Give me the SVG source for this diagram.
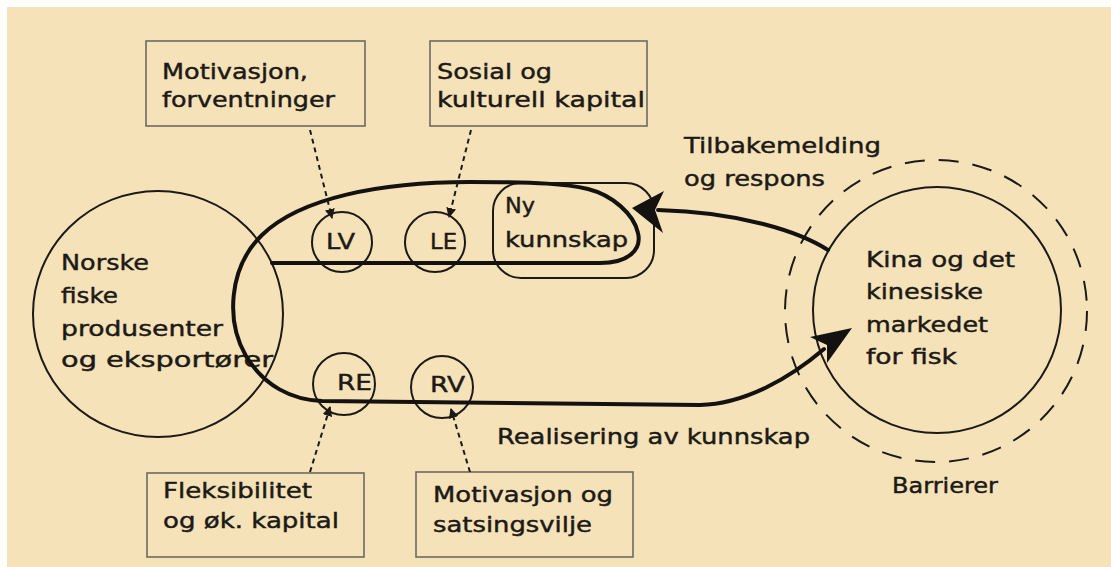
<svg xmlns="http://www.w3.org/2000/svg" width="1111" height="567" viewBox="0 0 1111 567">
<style>
text{font-family:"DejaVu Sans","Liberation Sans",sans-serif;font-size:22px;fill:#1c1a17;stroke:#1c1a17;stroke-width:0.45}
.box{fill:none;stroke:#6e6a62;stroke-width:1.6}
.thin{fill:none;stroke:#1c1a17;stroke-width:2}
.thick{fill:none;stroke:#141210;stroke-width:4;stroke-linecap:round;stroke-linejoin:round}
.dash{fill:none;stroke:#1c1a17;stroke-width:2;stroke-dasharray:5 4}
.head{fill:#141210;stroke:none}
</style>
<defs>
<marker id="tri" viewBox="0 0 10 10" refX="9" refY="5" markerWidth="5" markerHeight="5" orient="auto" markerUnits="strokeWidth">
<path d="M0,0 L10,5 L0,10 z" fill="#1c1a17"/>
</marker>
</defs>
<rect x="0" y="0" width="1111" height="567" fill="#ffffff"/>
<rect x="7" y="7" width="1104" height="560" fill="#f6e2b8"/>

<g id="norske">
<ellipse class="thin" cx="158" cy="314" rx="125" ry="123"/>
<text x="61" y="270" textLength="88" lengthAdjust="spacingAndGlyphs">Norske</text>
<text x="61" y="303" textLength="57" lengthAdjust="spacingAndGlyphs">fiske</text>
<text x="61" y="336" textLength="162" lengthAdjust="spacingAndGlyphs">produsenter</text>
<text x="61" y="367" textLength="212" lengthAdjust="spacingAndGlyphs">og eksportører</text>
</g>

<g id="kina">
<ellipse class="thin" cx="937" cy="310" rx="124" ry="123"/>
<circle cx="936" cy="311" r="151" fill="none" stroke="#1c1a17" stroke-width="2" stroke-dasharray="20 14"/>
<text x="866" y="267" textLength="149" lengthAdjust="spacingAndGlyphs">Kina og det</text>
<text x="866" y="299" textLength="117" lengthAdjust="spacingAndGlyphs">kinesiske</text>
<text x="866" y="332" textLength="122" lengthAdjust="spacingAndGlyphs">markedet</text>
<text x="866" y="364" textLength="91" lengthAdjust="spacingAndGlyphs">for fisk</text>
</g>

<g id="barrierer">
<text x="892" y="493" textLength="106" lengthAdjust="spacingAndGlyphs">Barrierer</text>
</g>

<g id="box-motivasjon">
<rect class="box" x="146" y="41" width="219" height="85"/>
<text x="162" y="79" textLength="146" lengthAdjust="spacingAndGlyphs">Motivasjon,</text>
<text x="162" y="107" textLength="173" lengthAdjust="spacingAndGlyphs">forventninger</text>
</g>

<g id="box-sosial">
<rect class="box" x="430" y="41" width="217" height="85"/>
<text x="437" y="79" textLength="115" lengthAdjust="spacingAndGlyphs">Sosial og</text>
<text x="437" y="107" textLength="208" lengthAdjust="spacingAndGlyphs">kulturell kapital</text>
</g>

<g id="box-fleksibilitet">
<rect class="box" x="147" y="473" width="217" height="84"/>
<text x="163" y="498" textLength="149" lengthAdjust="spacingAndGlyphs">Fleksibilitet</text>
<text x="163" y="528" textLength="176" lengthAdjust="spacingAndGlyphs">og øk. kapital</text>
</g>

<g id="box-satsing">
<rect class="box" x="416" y="472" width="217" height="85"/>
<text x="433" y="502" textLength="180" lengthAdjust="spacingAndGlyphs">Motivasjon og</text>
<text x="433" y="532" textLength="159" lengthAdjust="spacingAndGlyphs">satsingsvilje</text>
</g>

<g id="nykunnskap">
<rect class="thin" x="493" y="183" width="161" height="95" rx="28" ry="28"/>
<text x="505" y="213" textLength="30" lengthAdjust="spacingAndGlyphs">Ny</text>
<text x="505" y="247" textLength="123" lengthAdjust="spacingAndGlyphs">kunnskap</text>
</g>

<g id="lv">
<circle class="thin" cx="342" cy="242" r="30"/>
<text x="326" y="249" textLength="29" lengthAdjust="spacingAndGlyphs">LV</text>
</g>
<g id="le">
<circle class="thin" cx="435" cy="242" r="30"/>
<text x="430" y="249" textLength="27" lengthAdjust="spacingAndGlyphs">LE</text>
</g>
<g id="re">
<circle class="thin" cx="344" cy="384" r="31"/>
<text x="337" y="390" textLength="35" lengthAdjust="spacingAndGlyphs">RE</text>
</g>
<g id="rv">
<circle class="thin" cx="442" cy="387" r="31"/>
<text x="430" y="392" textLength="35" lengthAdjust="spacingAndGlyphs">RV</text>
</g>

<g id="labels">
<text x="684" y="153" textLength="197" lengthAdjust="spacingAndGlyphs">Tilbakemelding</text>
<text x="684" y="186" textLength="141" lengthAdjust="spacingAndGlyphs">og respons</text>
<text x="497" y="444" textLength="313" lengthAdjust="spacingAndGlyphs">Realisering av kunnskap</text>
</g>

<g id="connectors">
<path class="thick" d="M272,263 L600,263 C628,263 642,250 638,233 C634,214 612,195 588,189 C566,184 540,182 470,182 C380,182 300,198 262,235 C228,268 226,322 246,356 C264,386 292,400 322,401 L700,405 C745,404 790,378 824,349"/>
<polygon class="head" points="852,328 827,363 827,345 810,337"/>
<path class="thick" d="M828,250 C800,232 740,212 658,210"/>
<polygon class="head" points="632,208 664,191 655,210 663,233"/>
<path class="dash" d="M310,130 L332,218" marker-end="url(#tri)"/>
<path class="dash" d="M471,130 L449,217" marker-end="url(#tri)"/>
<path class="dash" d="M310,472 L330,407" marker-end="url(#tri)"/>
<path class="dash" d="M470,472 L451,409" marker-end="url(#tri)"/>
</g>
</svg>
